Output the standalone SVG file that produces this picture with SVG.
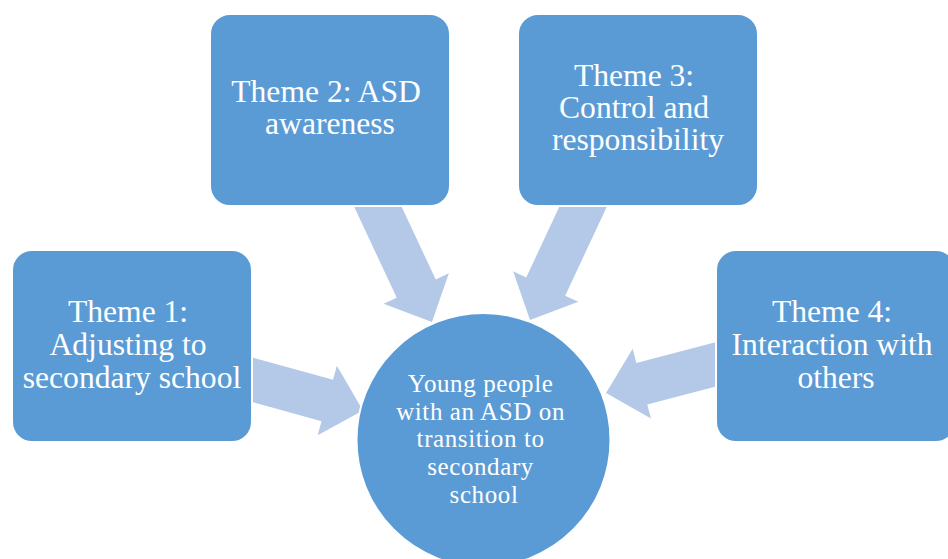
<svg xmlns="http://www.w3.org/2000/svg" width="948" height="559" viewBox="0 0 948 559">
  <style>
    .box { fill: #5B9BD5; stroke: #FFFFFF; stroke-width: 2; }
    .arrow { fill: #B4C8E7; }
    .label { font-family: "Liberation Serif", "Times New Roman", serif; fill: #FFFFFF; text-anchor: middle; }
    .big { font-size: 31.6px; }
    .small { font-size: 25px; letter-spacing: 0.6px; }
  </style>
  <rect width="948" height="559" fill="#FFFFFF"/>

  <!-- block arrows pointing into the centre circle -->
  <g id="connectors">
    <path class="arrow" transform="translate(255,380.5) rotate(15.5)" d="M-20,-21.5 H75 V-36 L112,0 L75,36 V21.5 H-20 Z"/>
    <path class="arrow" transform="translate(378.5,208) rotate(64.9)" d="M-20,-21.5 H89 V-36 L126,0 L89,36 V21.5 H-20 Z"/>
    <path class="arrow" transform="translate(582.5,208) rotate(115.1)" d="M-20,-21.5 H86.7 V-36 L123.7,0 L86.7,36 V21.5 H-20 Z"/>
    <path class="arrow" transform="translate(713,365) rotate(165.3)" d="M-20,-21.5 H73.6 V-36 L110.6,0 L73.6,36 V21.5 H-20 Z"/>
  </g>

  <g id="theme1">
    <rect class="box" x="12" y="250" width="240" height="192" rx="20" ry="20"/>
    <text class="label big" x="132" y="322">
      <tspan x="132" y="322">Theme 1:</tspan>
      <tspan x="132" y="355">Adjusting to</tspan>
      <tspan x="132" y="388">secondary school</tspan>
    </text>
  </g>

  <g id="theme2">
    <rect class="box" x="210" y="14" width="240" height="192" rx="20" ry="20"/>
    <text class="label big" x="330" y="102">
      <tspan x="330" y="102">Theme 2: ASD</tspan>
      <tspan x="330" y="134">awareness</tspan>
    </text>
  </g>

  <g id="theme3">
    <rect class="box" x="518" y="14" width="240" height="192" rx="20" ry="20"/>
    <text class="label big" x="638" y="86">
      <tspan x="638" y="86">Theme 3:</tspan>
      <tspan x="638" y="118">Control and</tspan>
      <tspan x="638" y="150">responsibility</tspan>
    </text>
  </g>

  <g id="theme4">
    <rect class="box" x="716" y="250" width="240" height="192" rx="20" ry="20"/>
    <text class="label big" x="836" y="322">
      <tspan x="836" y="322">Theme 4:</tspan>
      <tspan x="836" y="355">Interaction with</tspan>
      <tspan x="836" y="388">others</tspan>
    </text>
  </g>

  <g id="centre">
    <circle class="box" cx="483.5" cy="440" r="127"/>
    <text class="label small" x="484" y="392">
      <tspan x="484" y="392">Young people</tspan>
      <tspan x="484" y="420">with an ASD on</tspan>
      <tspan x="484" y="447">transition to</tspan>
      <tspan x="484" y="475">secondary</tspan>
      <tspan x="484" y="503">school</tspan>
    </text>
  </g>
</svg>
